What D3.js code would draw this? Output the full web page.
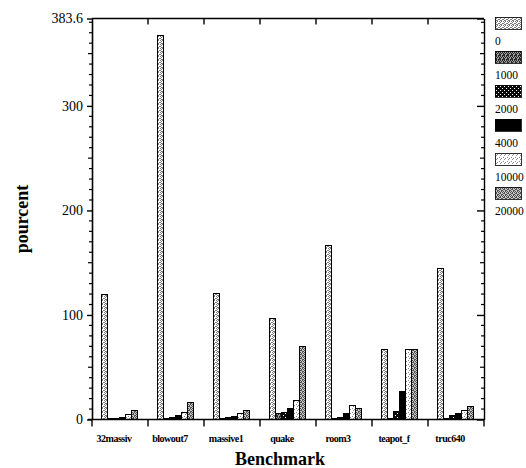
<!DOCTYPE html>
<html>
<head>
<meta charset="utf-8">
<script src="https://cdn.jsdelivr.net/npm/d3@7"></script>
<style>
  html, body { margin: 0; padding: 0; background: #fff; }
  svg { display: block; }
  text { font-family: "Liberation Serif", "DejaVu Serif", serif; fill: #000; }
</style>
</head>
<body>
<svg id="chart" width="526" height="468"></svg>
<script>
// Benchmarks and the six tested settings
const categories = ["32massiv", "blowout7", "massive1", "quake", "room3", "teapot_f", "truc640"];
const seriesNames = ["0", "1000", "2000", "4000", "10000", "20000"];

// Percent values per setting, one entry per benchmark
const v0     = [120, 367, 120.5, 97, 166, 67, 144];
const v1000  = [0.5, 0.5, 0.5, 5.5, 1, 1, 1];
const v2000  = [0.8, 2, 1.5, 6.4, 2, 7.5, 3.8];
const v4000  = [1.5, 4, 2.5, 10.5, 5.5, 27, 6];
const v10000 = [5, 6.5, 5.5, 18, 13.4, 67, 9];
const v20000 = [9, 16, 8.6, 70, 10.5, 67, 12];

const yTickLabels = [0, 100, 200, 300, 383.6];
const yMax = 383.6;

const seriesValues = [v0, v1000, v2000, v4000, v10000, v20000];

const svg = d3.select("#chart");
const plotLeft = 92, plotRight = 484, plotTop = 18.5, plotBottom = 419.5;

const x0 = d3.scaleBand().domain(categories).range([plotLeft, plotRight]).paddingInner(0).paddingOuter(0);
const x1 = d3.scaleBand().domain(seriesNames).range([9.5, 45]);
const y = d3.scaleLinear().domain([0, yMax]).range([plotBottom, plotTop]);

// Stipple textures for the six settings, given as 4x4 pixel masks
const defs = svg.append("defs");
function pattern(id, bg, ink, mask) {
  const p = defs.append("pattern").attr("id", id)
    .attr("patternUnits", "userSpaceOnUse").attr("width", 4).attr("height", 4);
  p.append("rect").attr("width", 4).attr("height", 4).attr("fill", bg);
  mask.forEach((row, ry) => row.split("").forEach((ch, rx) => {
    if (ch === "#") p.append("rect").attr("x", rx).attr("y", ry)
      .attr("width", 1).attr("height", 1).attr("fill", ink);
  }));
}
pattern("pat0", "#ffffff", "#7a7a7a", ["#.#.", ".#..", "#..#", ".##."]);
pattern("pat1", "#9a9a9a", "#262626", ["##.#", ".#.#", "#.#.", "##.."]);
pattern("pat2", "#0a0a0a", "#ffffff", ["....", ".#..", "....", "...#"]);
pattern("pat3", "#000000", "#000000", ["....", "....", "....", "...."]);
pattern("pat4", "#ffffff", "#8c8c8c", ["#...", "..#.", ".#..", "...."]);
pattern("pat5", "#c8c8c8", "#4e4e4e", ["#.#.", ".#.#", "##..", "..##"]);
const fillFor = i => `url(#pat${i})`;

// Bars
const groups = svg.append("g").selectAll("g").data(categories).join("g")
  .attr("transform", d => `translate(${x0(d)},0)`);
groups.selectAll("rect")
  .data((c, ci) => seriesNames.map((s, si) => ({ s, si, v: seriesValues[si][ci] })))
  .join("rect")
  .attr("x", d => x1(d.s))
  .attr("y", d => y(d.v))
  .attr("width", x1.bandwidth())
  .attr("height", d => y(0) - y(d.v))
  .attr("fill", d => fillFor(d.si))
  .attr("stroke", "#000")
  .attr("stroke-width", 1)
  .attr("shape-rendering", "crispEdges");

// Minor ticks every 10, slightly longer at multiples of 50
const minor = d3.range(0, yMax, 10).filter(v => v % 100 !== 0);
function minorTicks(g, dir) {
  g.selectAll("line.minor").data(minor).join("line")
    .attr("class", "minor")
    .attr("x1", 0).attr("x2", d => dir * (d % 50 === 0 ? 4 : 3))
    .attr("y1", d => y(d)).attr("y2", d => y(d))
    .attr("stroke", "#000").attr("stroke-width", 1.2);
}

// Left axis with labelled major ticks
const leftAxis = svg.append("g").attr("transform", `translate(${plotLeft},0)`)
  .call(d3.axisLeft(y).tickValues(yTickLabels).tickSize(5).tickSizeOuter(0)
    .tickFormat(d => d === yMax ? "383.6" : d3.format("d")(d)));
leftAxis.select(".domain").attr("stroke-width", 1.6);
leftAxis.selectAll(".tick line").attr("stroke-width", 1.4);
leftAxis.selectAll(".tick text").attr("font-size", 14).attr("font-family", "Liberation Serif").attr("dx", "-1");
leftAxis.call(minorTicks, -1);

// Right frame with inward ticks
const rightAxis = svg.append("g").attr("transform", `translate(${plotRight},0)`)
  .call(d3.axisLeft(y).tickValues(yTickLabels).tickSize(7).tickSizeOuter(0).tickFormat(""));
rightAxis.select(".domain").attr("stroke-width", 1.4);
rightAxis.selectAll(".tick line").attr("stroke-width", 1.4);
rightAxis.call(minorTicks, -1);

// Top frame with inward ticks at group boundaries
const bounds = categories.map(c => x0(c)).concat([x0(categories[categories.length - 1]) + x0.bandwidth()]);
svg.append("line").attr("x1", plotLeft).attr("x2", plotRight).attr("y1", y(yMax)).attr("y2", y(yMax))
  .attr("stroke", "#000").attr("stroke-width", 1.6);
svg.append("g").selectAll("line").data(bounds.slice(1, -1)).join("line")
  .attr("x1", d => d).attr("x2", d => d).attr("y1", y(yMax)).attr("y2", y(yMax) + 6)
  .attr("stroke", "#000").attr("stroke-width", 1.4);

// Bottom axis: baseline, boundary ticks, benchmark names
svg.append("line").attr("x1", plotLeft - 4).attr("x2", plotRight).attr("y1", y(0)).attr("y2", y(0))
  .attr("stroke", "#000").attr("stroke-width", 1.6);
svg.append("g").selectAll("line").data(bounds).join("line")
  .attr("x1", d => d).attr("x2", d => d).attr("y1", y(0)).attr("y2", y(0) + 7)
  .attr("stroke", "#000").attr("stroke-width", 1.4);
svg.append("g").selectAll("text").data(categories).join("text")
  .attr("x", d => x0(d) + x0.bandwidth() / 2 - 6)
  .attr("y", 442)
  .attr("text-anchor", "middle")
  .attr("font-size", 10)
  .attr("font-weight", "bold")
  .attr("letter-spacing", "-0.5px")
  .text(d => d);

// Axis titles
svg.append("text").attr("x", 280).attr("y", 465).attr("text-anchor", "middle")
  .attr("font-size", 18).attr("font-weight", "bold").text("Benchmark");
svg.append("text").attr("transform", `translate(28,${(plotTop + plotBottom) / 2}) rotate(-90)`)
  .attr("text-anchor", "middle").attr("font-size", 18).attr("font-weight", "bold").text("pourcent");

// Legend
const legend = svg.append("g").selectAll("g").data(seriesNames).join("g")
  .attr("transform", (d, i) => `translate(495,${17 + i * 34})`);
legend.append("rect").attr("width", 26).attr("height", 12)
  .attr("fill", (d, i) => fillFor(i)).attr("stroke", "#000").attr("stroke-width", 0.8)
  .attr("shape-rendering", "crispEdges");
legend.append("text").attr("x", 0).attr("y", 28).attr("font-size", 11.5).text(d => d);
</script>
</body>
</html>
